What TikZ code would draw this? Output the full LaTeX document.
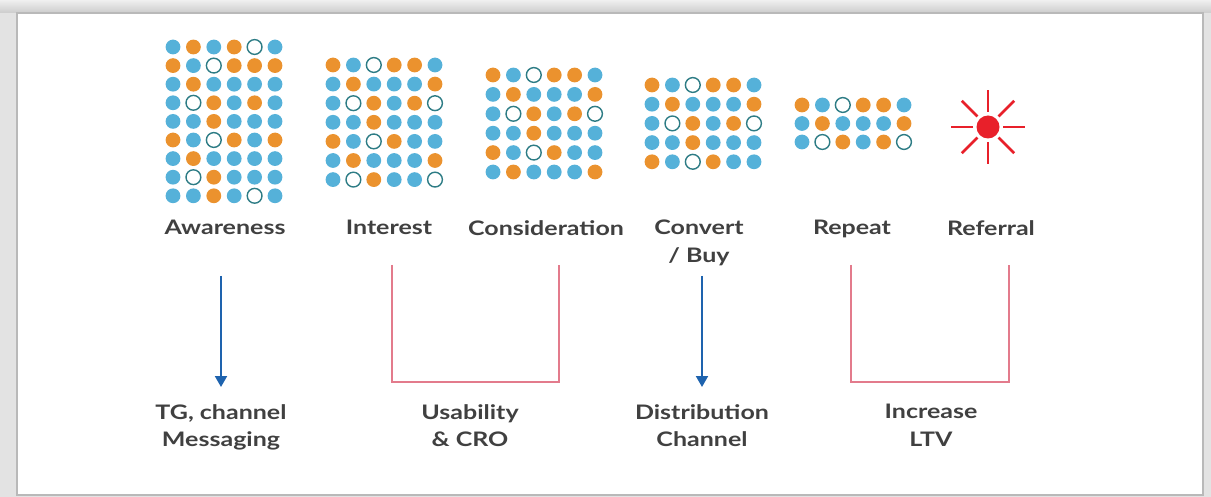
\documentclass[tikz,border=0pt]{standalone}
\usepackage{fontspec}
\setmainfont{Lato}[FakeStretch=1.25]
\usetikzlibrary{positioning}
\usetikzlibrary{arrows.meta}
\usepackage{xcolor}
\definecolor{dotblue}{HTML}{55B1D9}
\definecolor{dotorange}{HTML}{EB922E}
\definecolor{ringteal}{HTML}{2D7C85}
\definecolor{flowblue}{HTML}{1E63AE}
\definecolor{brkpink}{HTML}{E37B8C}
\definecolor{sunred}{HTML}{E8202A}
\definecolor{txtgray}{HTML}{404040}
% one grid of dots: x, y of first dot, row step, rows
\newcommand{\dotgrid}[4]{%
  \foreach \row [count=\j] in {#4} {
    \foreach \c [count=\i] in \row {
      \path[dot\c] ({#1+(\i-1)*20.4},{#2+(\j-1)*#3}) circle (7.4);
    }
  }
}

\begin{document}
\begin{tikzpicture}[x=1pt,y=-1pt,
  dotb/.style={fill=dotblue}, doto/.style={fill=dotorange},
  dotw/.style={draw=ringteal,fill=white,line width=1.4pt},
  lbl/.style={font=\fontsize{20}{27.5}\selectfont\bfseries,text=txtgray,align=center,inner sep=0pt,anchor=north},
  flow/.style={draw=flowblue,line width=2pt,-{Triangle[width=12pt,length=11pt]}},
  brk/.style={draw=brkpink,line width=1.4pt}]
\useasboundingbox (0,0) rectangle (1211,497);
% frame
\fill[gray!22] (0,0) rectangle (1211,497);
\shade[top color=gray!12,bottom color=gray!40] (0,0) rectangle (1211,13);
\fill[white] (17,13) rectangle (1203,495);
\draw[gray!55,line width=2pt] (17,13) rectangle (1203,495);

% dots
\dotgrid{173}{47}{18.6}{{b,o,b,o,w,b},{o,b,w,o,o,o},{b,o,b,b,b,b},{b,w,o,b,o,b},{b,b,o,b,b,b},{o,b,w,o,b,o},{b,o,b,b,b,b},{b,w,o,b,b,b},{b,b,o,b,w,b}}
\dotgrid{333}{65}{19.1}{{o,b,w,o,o,b},{b,o,b,b,b,o},{b,w,o,b,o,w},{b,b,o,b,b,b},{o,b,w,o,b,b},{b,o,b,b,b,o},{b,w,o,b,b,w}}
\dotgrid{493}{75}{19.4}{{o,b,w,o,o,b},{b,o,b,b,b,o},{b,w,o,b,o,w},{b,b,o,b,b,b},{o,b,w,o,b,b},{b,o,b,b,b,o}}
\dotgrid{652}{85}{19.2}{{o,b,w,o,o,b},{b,o,b,b,b,o},{b,w,o,b,o,w},{b,b,o,b,b,b},{o,b,w,o,b,b}}
\dotgrid{802}{105}{18.5}{{o,b,w,o,o,b},{b,o,b,b,b,o},{b,w,o,b,o,w}}

% sun
\coordinate (sun) at (988,127);
\fill[sunred] (sun) circle (11.5);
\foreach \a in {0,45,...,315}
  \draw[sunred,line width=2.8pt] (sun) ++(\a:15) -- ++(\a:22);

% stages
\node[lbl] (aware) at (225,220) {Awareness};
\node[lbl] (inter) at (389,220) {Interest};
\node[lbl] (consid) at (546,220) {Consideration};
\node[lbl] (conv) at (699,220) {Convert\\/ Buy};
\node[lbl] (rep) at (852,220) {Repeat};
\node[lbl] (refer) at (991,220) {Referral};

% outcomes
\node[lbl] (tg) at (221,404) {TG, channel\\Messaging};
\node[lbl] (usab) at (470,404) {Usability\\\& CRO};
\node[lbl] (distr) at (702,404) {Distribution\\Channel};
\node[lbl] (ltv) at (931,404) {Increase\\LTV};

% links
\coordinate (tg-a) at (221,276);
\coordinate (tg-b) at (221,387);
\draw[flow] (tg-a) -- (tg-b);
\coordinate (distr-a) at (702,276);
\coordinate (distr-b) at (702,387);
\draw[flow] (distr-a) -- (distr-b);
\coordinate (usab-a) at (392,265);
\coordinate (usab-b) at (559,265);
\draw[brk] (usab-a) -- ++(0,117) -| (usab-b);
\coordinate (ltv-a) at (851,265);
\coordinate (ltv-b) at (1009,265);
\draw[brk] (ltv-a) -- ++(0,117) -| (ltv-b);
\end{tikzpicture}
\end{document}
